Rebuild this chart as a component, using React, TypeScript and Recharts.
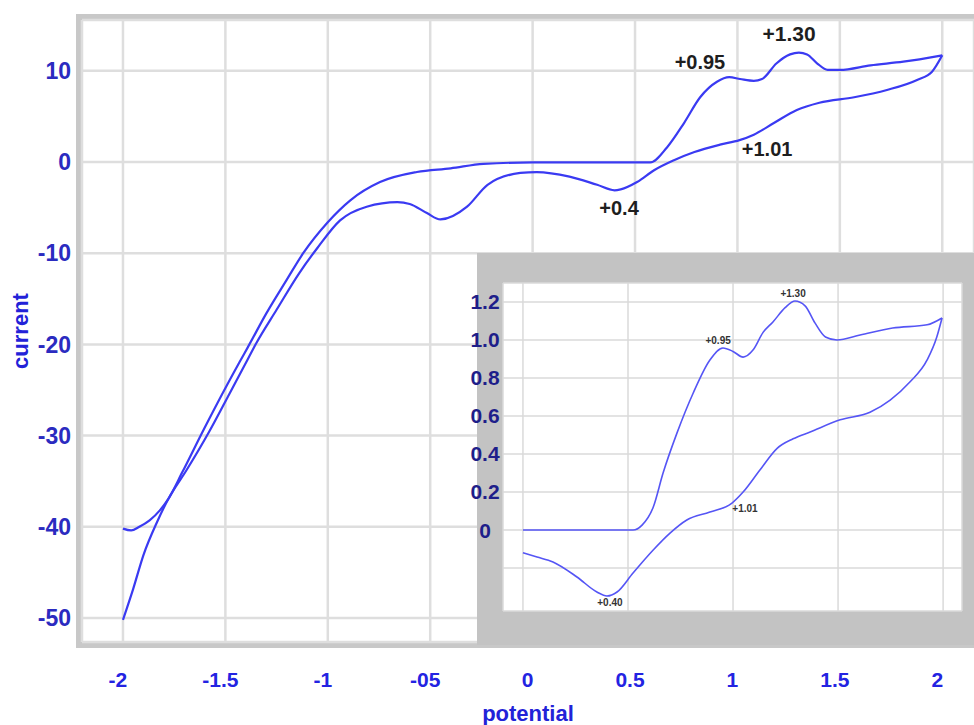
import { LineChart, Line, XAxis, YAxis, CartesianGrid, ReferenceDot } from 'recharts';

// main voltammogram: forward scan (starts at -2 V, -40) and return scan (ends at -2 V, -50)
const forwardScan = [
  { e: -2.0, i: -40.2 }, { e: -1.96, i: -40.4 }, { e: -1.92, i: -40.0 }, { e: -1.87, i: -39.3 },
  { e: -1.82, i: -38.2 }, { e: -1.78, i: -37.0 }, { e: -1.71, i: -34.0 }, { e: -1.605, i: -29.3 },
  { e: -1.43, i: -21.9 }, { e: -1.39, i: -20.3 }, { e: -1.3, i: -16.6 }, { e: -1.2, i: -12.9 },
  { e: -1.12, i: -10.0 }, { e: -1.0, i: -6.6 }, { e: -0.89, i: -4.2 }, { e: -0.745, i: -2.2 },
  { e: -0.565, i: -1.1 }, { e: -0.4, i: -0.7 }, { e: -0.24, i: -0.2 }, { e: 0.0, i: -0.05 },
  { e: 0.3, i: -0.05 }, { e: 0.574, i: -0.05 }, { e: 0.656, i: 1.6 }, { e: 0.74, i: 4.3 },
  { e: 0.818, i: 7.1 }, { e: 0.9, i: 8.8 }, { e: 0.96, i: 9.3 }, { e: 1.013, i: 9.1 },
  { e: 1.08, i: 8.9 }, { e: 1.12, i: 9.1 }, { e: 1.19, i: 10.8 }, { e: 1.257, i: 11.8 },
  { e: 1.3, i: 12.0 }, { e: 1.34, i: 11.8 }, { e: 1.39, i: 10.8 }, { e: 1.44, i: 10.1 },
  { e: 1.5, i: 10.1 }, { e: 1.65, i: 10.6 }, { e: 1.81, i: 11.0 }, { e: 2.0, i: 11.7 },
];

const reverseScan = [
  { e: -2.0, i: -50.2 }, { e: -1.95, i: -46.8 }, { e: -1.9, i: -43.1 }, { e: -1.834, i: -39.5 },
  { e: -1.78, i: -37.0 }, { e: -1.69, i: -33.8 }, { e: -1.58, i: -29.6 }, { e: -1.48, i: -25.4 },
  { e: -1.39, i: -21.6 }, { e: -1.35, i: -19.9 }, { e: -1.25, i: -16.2 }, { e: -1.14, i: -12.2 },
  { e: -1.05, i: -9.4 }, { e: -0.94, i: -6.4 }, { e: -0.81, i: -4.9 }, { e: -0.66, i: -4.4 },
  { e: -0.6, i: -4.6 }, { e: -0.516, i: -5.6 }, { e: -0.45, i: -6.3 }, { e: -0.32, i: -4.9 },
  { e: -0.22, i: -2.5 }, { e: -0.06, i: -1.2 }, { e: 0.02, i: -1.1 }, { e: 0.18, i: -1.6 },
  { e: 0.315, i: -2.5 }, { e: 0.4, i: -3.1 }, { e: 0.43, i: -3.0 }, { e: 0.51, i: -2.2 },
  { e: 0.593, i: -0.9 }, { e: 0.69, i: 0.2 }, { e: 0.79, i: 1.1 }, { e: 0.915, i: 1.9 },
  { e: 1.01, i: 2.4 }, { e: 1.08, i: 3.0 }, { e: 1.18, i: 4.3 }, { e: 1.29, i: 5.7 },
  { e: 1.4, i: 6.5 }, { e: 1.57, i: 7.1 }, { e: 1.73, i: 7.9 }, { e: 1.877, i: 9.0 },
  { e: 1.95, i: 9.9 }, { e: 2.0, i: 11.7 },
];

// inset: zoom of 0..2 V
const insetForward = [
  { e: 0.0, i: 0.0 }, { e: 0.3, i: 0.0 }, { e: 0.524, i: 0.0 }, { e: 0.567, i: 0.026 },
  { e: 0.62, i: 0.12 }, { e: 0.667, i: 0.3 }, { e: 0.733, i: 0.51 }, { e: 0.81, i: 0.72 },
  { e: 0.89, i: 0.895 }, { e: 0.952, i: 0.958 }, { e: 1.0, i: 0.94 }, { e: 1.048, i: 0.91 },
  { e: 1.095, i: 0.947 }, { e: 1.143, i: 1.04 }, { e: 1.19, i: 1.095 }, { e: 1.248, i: 1.17 },
  { e: 1.295, i: 1.205 }, { e: 1.343, i: 1.18 }, { e: 1.39, i: 1.09 }, { e: 1.44, i: 1.016 },
  { e: 1.495, i: 1.0 }, { e: 1.605, i: 1.026 }, { e: 1.76, i: 1.063 }, { e: 1.924, i: 1.08 },
  { e: 1.995, i: 1.116 },
];

const insetReverse = [
  { e: 0.0, i: -0.12 }, { e: 0.067, i: -0.142 }, { e: 0.143, i: -0.168 }, { e: 0.257, i: -0.247 },
  { e: 0.352, i: -0.326 }, { e: 0.4, i: -0.347 }, { e: 0.448, i: -0.326 }, { e: 0.524, i: -0.226 },
  { e: 0.62, i: -0.105 }, { e: 0.7, i: -0.016 }, { e: 0.78, i: 0.053 }, { e: 0.89, i: 0.095 },
  { e: 0.995, i: 0.142 }, { e: 1.048, i: 0.2 }, { e: 1.128, i: 0.316 }, { e: 1.21, i: 0.43 },
  { e: 1.286, i: 0.48 }, { e: 1.367, i: 0.516 }, { e: 1.51, i: 0.58 }, { e: 1.652, i: 0.62 },
  { e: 1.748, i: 0.684 }, { e: 1.843, i: 0.78 }, { e: 1.924, i: 0.895 }, { e: 1.97, i: 1.016 },
  { e: 1.995, i: 1.116 },
];

const potentialTicks = [-2, -1.5, -1, -0.5, 0, 0.5, 1, 1.5, 2];
const currentTicks = [-50, -40, -30, -20, -10, 0, 10];
const insetPotentialTicks = [0, 0.5, 1, 1.5, 2];
const insetCurrentTicks = [-0.2, 0, 0.2, 0.4, 0.6, 0.8, 1.0, 1.2];

const peakLabels = [
  { e: 1.252, i: 14.1, text: '+1.30' },
  { e: 0.817, i: 10.96, text: '+0.95' },
  { e: 1.145, i: 1.43, text: '+1.01' },
  { e: 0.422, i: -5.04, text: '+0.4' },
];

const insetPeakLabels = [
  { e: 0.929, i: 1.0, text: '+0.95' },
  { e: 1.286, i: 1.247, text: '+1.30' },
  { e: 1.057, i: 0.116, text: '+1.01' },
  { e: 0.414, i: -0.379, text: '+0.40' },
];

const font = 'Liberation Sans, Arial, sans-serif';

const fmtPotential = (v: number) => (v === -0.5 ? '-05' : String(v));
const fmtInset = (v: number) => (v < 0 ? '' : v === 0 ? '0' : v.toFixed(1));

export default function App() {
  return (
    <div style={{ position: 'absolute', left: 0, top: 0, width: 974, height: 725, background: '#fff', overflow: 'hidden', fontFamily: font }}>
      {/* gray frame of the main plot */}
      <div style={{ position: 'absolute', left: 76, top: 14, width: 920, height: 634, border: '6px solid #c8c8c8', boxSizing: 'border-box', background: '#fff' }} />

      <div style={{ position: 'absolute', left: 0, top: 0 }}>
        <LineChart width={974} height={725} margin={{ top: 20, right: 0, bottom: 0, left: 0 }}>
          <CartesianGrid stroke="#dedede" strokeWidth={2.5} />
          <XAxis
            type="number"
            dataKey="e"
            domain={[-2.2, 2.155]}
            ticks={potentialTicks}
            allowDataOverflow
            axisLine={false}
            tickLine={false}
            tickSize={0}
            tickMargin={30}
            height={83}
            tickFormatter={fmtPotential}
            tick={{ fill: '#2323e2', fontSize: 21, fontWeight: 'bold', fontFamily: font, dx: -5 }}
            label={{ value: 'potential', position: 'insideBottom', offset: 4, fill: '#2222d8', fontSize: 22, fontWeight: 'bold', fontFamily: font }}
          />
          <YAxis
            type="number"
            domain={[-52.63, 15.57]}
            ticks={currentTicks}
            allowDataOverflow
            axisLine={false}
            tickLine={false}
            tickSize={0}
            tickMargin={11}
            width={82}
            tick={{ fill: '#2b2bc0', fontSize: 23, fontWeight: 'bold', fontFamily: font }}
            label={{ value: 'current', angle: -90, position: 'insideLeft', offset: 20, textAnchor: 'middle', fill: '#2222d8', fontSize: 22, fontWeight: 'bold', fontFamily: font }}
          />
          <Line data={forwardScan} dataKey="i" type="monotone" stroke="#3a3af2" strokeWidth={2.2} dot={false} isAnimationActive={false} />
          <Line data={reverseScan} dataKey="i" type="monotone" stroke="#3a3af2" strokeWidth={2.2} dot={false} isAnimationActive={false} />
          {peakLabels.map((p) => (
            <ReferenceDot
              key={p.text}
              x={p.e}
              y={p.i}
              r={0}
              fill="none"
              stroke="none"
              label={{ value: p.text, position: 'center', fill: '#1e1e1e', fontSize: p.text === '+1.30' ? 21 : 20, fontWeight: 'bold', fontFamily: font }}
            />
          ))}
        </LineChart>
      </div>

      {/* inset frame */}
      <div style={{ position: 'absolute', left: 477, top: 253, width: 497, height: 392, background: '#c3c3c3' }} />

      <div style={{ position: 'absolute', left: 460, top: 253 }}>
        <LineChart width={514} height={392} margin={{ top: 30, right: 12, bottom: 34, left: 0 }}>
          <CartesianGrid fill="#fff" stroke="#dadada" strokeWidth={1.5} />
          <XAxis hide type="number" dataKey="e" domain={[-0.095, 2.09]} ticks={insetPotentialTicks} allowDataOverflow />
          <YAxis
            type="number"
            domain={[-0.426, 1.3]}
            ticks={insetCurrentTicks}
            allowDataOverflow
            axisLine={false}
            tickLine={false}
            tickSize={0}
            tickMargin={18}
            width={43}
            tickFormatter={fmtInset}
            tick={{ fill: '#1e1e8a', fontSize: 21, fontWeight: 'bold', fontFamily: font, textAnchor: 'middle' }}
          />
          <Line data={insetForward} dataKey="i" type="monotone" stroke="#5555f5" strokeWidth={1.6} dot={false} isAnimationActive={false} />
          <Line data={insetReverse} dataKey="i" type="monotone" stroke="#5555f5" strokeWidth={1.6} dot={false} isAnimationActive={false} />
          {insetPeakLabels.map((p) => (
            <ReferenceDot
              key={p.text}
              x={p.e}
              y={p.i}
              r={0}
              fill="none"
              stroke="none"
              label={{ value: p.text, position: 'center', fill: '#333', fontSize: 10, fontWeight: 'bold', fontFamily: font }}
            />
          ))}
        </LineChart>
      </div>
    </div>
  );
}
